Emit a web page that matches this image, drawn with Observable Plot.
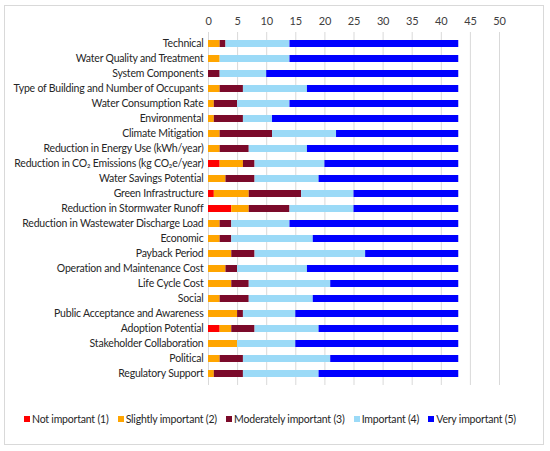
<!DOCTYPE html>
<html>
<head>
<meta charset="utf-8">
<script src="https://cdn.jsdelivr.net/npm/d3@7"></script>
<script src="https://cdn.jsdelivr.net/npm/@observablehq/plot@0.6"></script>
<style>
  html, body { margin: 0; padding: 0; background: #fff; }
  #frame { position: absolute; left: 4px; top: 5px; width: 540px; height: 440px; border: 1px solid #d9d9d9; box-sizing: border-box; }
  #chart { position: absolute; left: 0; top: 0; }
  #legend { position: absolute; left: 24px; top: 413px; width: 492px; display: flex; justify-content: space-between; font-family: Lato, sans-serif; font-size: 10.5px; letter-spacing: -0.2px; color: #262626; }
  .item { white-space: nowrap; }
  .sw { display: inline-block; width: 6px; height: 6px; margin-right: 2px; vertical-align: 1px; }
</style>
</head>
<body>
<div id="frame"></div>
<div id="chart"></div>
<div id="legend"></div>
<script>
const categories = [
  "Technical",
  "Water Quality and Treatment",
  "System Components",
  "Type of Building and Number of Occupants",
  "Water Consumption Rate",
  "Environmental",
  "Climate Mitigation",
  "Reduction in Energy Use (kWh/year)",
  "Reduction in CO\u2082 Emissions (kg CO\u2082e/year)",
  "Water Savings Potential",
  "Green Infrastructure",
  "Reduction in Stormwater Runoff",
  "Reduction in Wastewater Discharge Load",
  "Economic",
  "Payback Period",
  "Operation and Maintenance Cost",
  "Life Cycle Cost",
  "Social",
  "Public Acceptance and Awareness",
  "Adoption Potential",
  "Stakeholder Collaboration",
  "Political",
  "Regulatory Support"
];
const levels = ["Not important (1)", "Slightly important (2)", "Moderately important (3)", "Important (4)", "Very important (5)"];
const notImportant        = [0,0,0,0,0,0,0,0,2,0,1,4,0,0,0,0,0,0,0,2,0,0,0];
const slightlyImportant   = [2,2,0,2,1,1,2,2,4,3,6,3,2,2,4,3,4,2,5,2,5,2,1];
const moderatelyImportant = [1,0,2,4,4,5,9,5,2,5,9,7,2,2,4,2,3,5,1,4,0,4,5];
const important           = [11,12,8,11,9,5,11,10,12,11,9,11,10,14,19,12,14,11,9,11,10,15,13];
const veryImportant       = [29,29,33,26,29,32,21,26,23,24,18,18,29,25,16,26,22,25,28,24,28,22,24];
const xTicks = [0,5,10,15,20,25,30,35,40,45,50];
const colors = ["#ff0000", "#ffa500", "#7b0a2a", "#9bdaf7", "#0000ff"];

const series = [notImportant, slightlyImportant, moderatelyImportant, important, veryImportant];
const data = [];
categories.forEach((c, i) => {
  series.forEach((s, j) => data.push({category: c, level: levels[j], value: s[i]}));
});

const chart = Plot.plot({
  width: 550,
  height: 395,
  marginLeft: 208,
  marginRight: 51,
  marginTop: 32,
  marginBottom: 10,
  style: {fontFamily: "Lato, sans-serif", fontSize: "10.5px", letterSpacing: "-0.2px", color: "#262626", background: "transparent", overflow: "visible"},
  x: {domain: [0, 50], ticks: xTicks, axis: null},
  y: {domain: categories, paddingInner: 0.55, paddingOuter: 0.435, axis: null},
  color: {domain: levels, range: colors},
  marks: [
    Plot.gridX(xTicks, {stroke: "#d9d9d9", strokeOpacity: 1}),
    Plot.barX(data, Plot.stackX({x: "value", y: "category", fill: "level", order: levels, inset: 0})),
    Plot.axisX({anchor: "top", ticks: xTicks, tickSize: 0, tickPadding: 8, label: null, fill: "#404040", fontSize: 11}),
    Plot.axisY({anchor: "left", tickSize: 0, tickPadding: 5, label: null, fill: "#262626", fontSize: 10.5})
  ]
});
document.getElementById("chart").appendChild(chart);

const legend = document.getElementById("legend");
levels.forEach((l, i) => {
  const d = document.createElement("div");
  d.className = "item";
  d.innerHTML = `<span class="sw" style="background:${colors[i]}"></span>${l}`;
  legend.appendChild(d);
});
</script>
</body>
</html>
